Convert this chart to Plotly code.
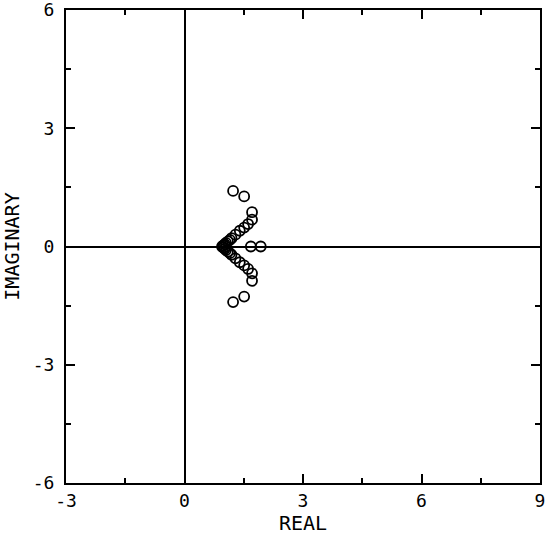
import plotly.graph_objects as go

FAMILY = "DejaVu Sans Mono"

# roots in the upper half plane (lower half is the mirror image)
upper_re = [1.23, 1.51, 1.71, 1.71, 1.61, 1.51, 1.40, 1.29, 1.19, 1.15, 1.10, 1.05, 1.02, 0.98]
upper_im = [1.41, 1.27, 0.87, 0.68, 0.57, 0.48, 0.40, 0.30, 0.21, 0.17, 0.13, 0.09, 0.06, 0.03]
# roots on the real axis
real_re = [0.95, 1.68, 1.93]
real_im = [0.0, 0.0, 0.0]

x_ticks = [-3, 0, 3, 6, 9]
y_ticks = [-6, -3, 0, 3, 6]

re_vals = upper_re + upper_re + real_re
im_vals = upper_im + [-v for v in upper_im] + real_im

fig = go.Figure(
    go.Scatter(
        x=re_vals,
        y=im_vals,
        mode="markers",
        marker=dict(symbol="circle-open", size=10, color="black",
                    line=dict(width=1.8, color="black")),
        hoverinfo="skip",
    ))

axis_common = dict(
    automargin=False,
    showgrid=False,
    zeroline=True,
    zerolinecolor="black",
    zerolinewidth=1.5,
    showline=True,
    linecolor="black",
    linewidth=2,
    mirror="ticks",
    ticks="inside",
    ticklen=9,
    tickwidth=1.5,
    tickcolor="black",
    ticklabeloverflow="allow",
    minor=dict(dtick=1.5, ticks="inside", ticklen=5, tickwidth=1.5, tickcolor="black"),
    tickfont=dict(family=FAMILY, size=18, color="black"),
)

fig.update_layout(
    width=546,
    height=540,
    paper_bgcolor="white",
    plot_bgcolor="white",
    showlegend=False,
    margin=dict(l=66, r=6, t=10, b=57),
    xaxis=dict(axis_common, range=[-3, 9], tickvals=x_ticks,
               ticktext=[str(v) for v in x_ticks],
               title=dict(text="REAL", standoff=2,
                          font=dict(family=FAMILY, size=20, color="black"))),
    yaxis=dict(axis_common, range=[-6, 6], tickvals=y_ticks,
               ticktext=[str(v) for v in y_ticks], ticklabelstandoff=6,
               title=dict(text="IMAGINARY", standoff=12,
                          font=dict(family=FAMILY, size=20, color="black"))),
)

# drop the page's default body margin so the figure sits at the window corner
fig.write_html("out.html", config={"displayModeBar": False},
               post_script="document.body.style.margin='0';")
